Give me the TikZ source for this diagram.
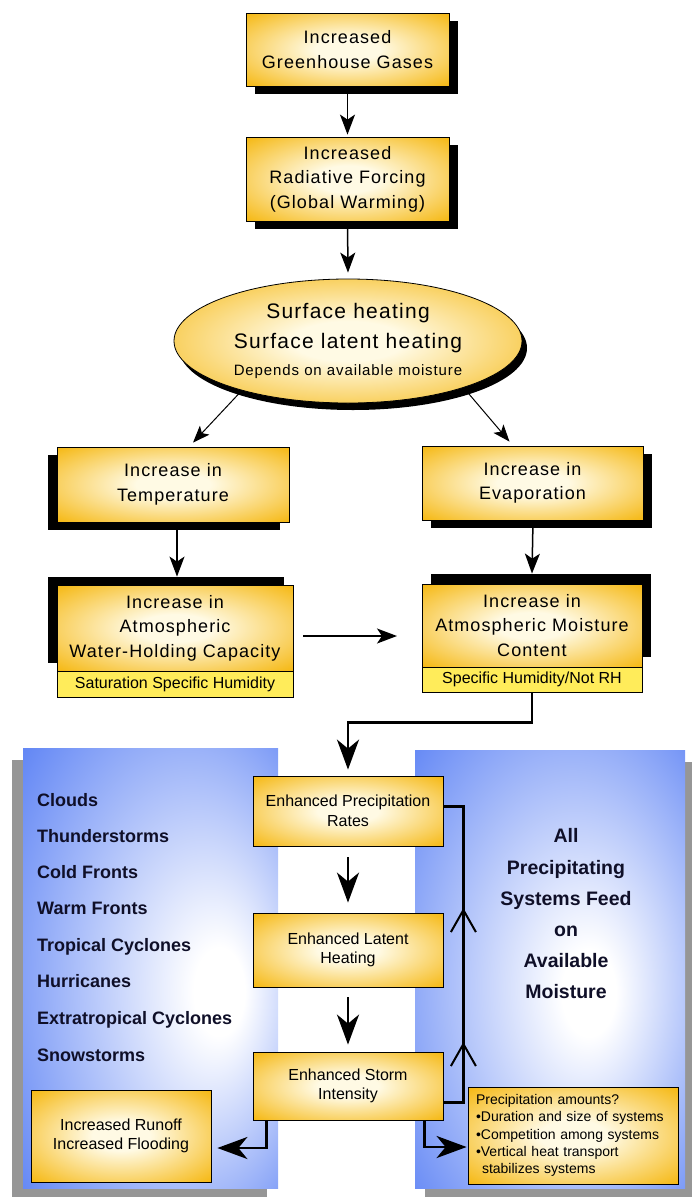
\documentclass[tikz,border=0pt]{standalone}
\usepackage{fontspec}
\setmainfont{Liberation Sans}
\newfontfamily\spaced[LetterSpace=6]{Liberation Sans}
\usetikzlibrary{shapes.geometric,arrows.meta,shadows,decorations.markings}

\definecolor{yin}{RGB}{255,250,228}
\definecolor{yout}{RGB}{245,182,12}
\definecolor{stripc}{RGB}{255,236,90}
\definecolor{bout}{RGB}{100,136,245}
\definecolor{shgray}{RGB}{150,150,150}
\definecolor{navy}{RGB}{15,15,40}

\pgfdeclareradialshading{yshade}{\pgfpoint{0bp}{0bp}}{color(0bp)=(yin); color(8bp)=(yin); color(36bp)=(yout); color(50bp)=(yout)}
\pgfdeclareradialshading{lshade}{\pgfpoint{15bp}{-3bp}}{color(0bp)=(white); color(5bp)=(white); color(38bp)=(bout); color(50bp)=(bout)}
\pgfdeclareradialshading{rshade}{\pgfpoint{8bp}{-3bp}}{color(0bp)=(white); color(5bp)=(white); color(38bp)=(bout); color(50bp)=(bout)}

\begin{document}
\begin{tikzpicture}[x=1pt,y=-1pt,
  ybox/.style={draw=black, line width=0.8pt, shade, shading=yshade, align=center, inner sep=0pt,
    font=\spaced\fontsize{18}{24.5}\selectfont},
  cbox/.style={draw=black, line width=0.8pt, shade, shading=yshade, align=center, inner sep=0pt,
    font=\fontsize{16}{19.5}\selectfont},
  strip/.style={draw=black, line width=0.8pt, fill=stripc, inner sep=0pt,
    font=\fontsize{16}{18}\selectfont},
  shse/.style={general shadow={fill=black, shadow xshift=9pt, shadow yshift=-8pt}},
  shsw/.style={general shadow={fill=black, shadow xshift=-9pt, shadow yshift=-8pt}},
  shnw/.style={general shadow={fill=black, shadow xshift=-9pt, shadow yshift=8pt}},
  shne/.style={general shadow={fill=black, shadow xshift=9pt, shadow yshift=10pt}},
  panel/.style={shade, inner sep=0pt, draw=none},
  ltext/.style={anchor=base west, inner sep=0pt, text=navy, font=\bfseries\fontsize{18}{20}\selectfont},
  rtext/.style={anchor=base, inner sep=0pt, text=navy, font=\bfseries\fontsize{19.5}{22}\selectfont},
  thinarr/.style={line width=1.5pt, -{Stealth[length=20pt,width=15pt,inset=5pt]}},
  slimarr/.style={line width=1pt, -{Stealth[length=17pt,width=13pt,inset=4pt]}},
  fatarr/.style={line width=2.8pt, -{Stealth[length=30pt,width=22pt,inset=9pt]}}
]
\useasboundingbox (0,0) rectangle (692,1197);

% ---------- top part ----------
\node[ybox, shse, minimum width=203pt, minimum height=73pt] (g1) at (347.5,49.5) {Increased\\Greenhouse Gases};
\node[ybox, shse, minimum width=203pt, minimum height=84pt] (g2) at (347.5,179) {Increased\\Radiative Forcing\\(Global Warming)};
\node[ellipse, draw=black, line width=0.8pt, shade, shading=yshade, inner sep=0pt,
      general shadow={fill=black, shadow xshift=5pt, shadow yshift=-7pt},
      minimum width=348pt, minimum height=124pt, align=center,
      font=\spaced\fontsize{21}{30}\selectfont] (el) at (348,341)
  {Surface heating\\Surface latent heating\\[-3pt]{\fontsize{15}{18}\selectfont Depends on available moisture}};

\node[ybox, shsw, minimum width=232pt, minimum height=75pt] (t3) at (173,484.5) {Increase in\\Temperature};
\node[ybox, shse, minimum width=221pt, minimum height=74pt] (t4) at (532.5,483) {Increase in\\Evaporation};
\node[ybox, shnw, minimum width=236pt, minimum height=86pt] (t5) at (175,628) {Increase in\\Atmospheric\\Water-Holding Capacity};
\node[strip, minimum width=236pt, minimum height=26pt] (s5) at (175,684) {Saturation Specific Humidity};
\node[ybox, shne, minimum width=220pt, minimum height=83pt] (t6) at (532,625.5) {Increase in\\Atmospheric Moisture\\Content};
\node[strip, minimum width=220pt, minimum height=25pt] (s6) at (532,679.5) {Specific Humidity/Not RH};

\draw[thinarr] (g1.south) -- ([yshift=2pt]g2.north);
\draw[thinarr] (g2.south) -- ([yshift=6pt]el.north);
\draw[slimarr] (el.205) -- ([xshift=20pt,yshift=4pt]t3.north);
\draw[slimarr] (el.338) -- ([xshift=-23pt,yshift=4pt]t4.north);
\draw[thinarr] ([xshift=4pt]t3.south) -- ([xshift=2pt,yshift=8pt]t5.north);
\draw[thinarr] ([xshift=0.5pt]t4.south) -- ([yshift=10pt]t6.north);
\coordinate (h1) at (303,636);
\coordinate (h2) at (397,636);
\draw[thinarr] (h1) -- (h2);

% ---------- bottom panels ----------
\node[panel, shading=lshade, minimum width=255pt, minimum height=440pt,
      general shadow={fill=shgray, shadow xshift=-11pt, shadow yshift=-12pt}] (lp) at (150.5,968) {};
\node[panel, shading=rshade, minimum width=270pt, minimum height=438pt,
      general shadow={fill=shgray, shadow xshift=10pt, shadow yshift=-12pt}] (rp) at (550,969) {};

\node[ltext] (l1) at (37,806) {Clouds};
\node[ltext] (l2) at (37,842) {Thunderstorms};
\node[ltext] (l3) at (37,878) {Cold Fronts};
\node[ltext] (l4) at (37,914) {Warm Fronts};
\node[ltext] (l5) at (37,951) {Tropical Cyclones};
\node[ltext] (l6) at (37,987) {Hurricanes};
\node[ltext] (l7) at (37,1024) {Extratropical Cyclones};
\node[ltext] (l8) at (37,1061) {Snowstorms};

\node[rtext] (r1) at (566,842) {All};
\node[rtext] (r2) at (566,874) {Precipitating};
\node[rtext] (r3) at (566,905) {Systems Feed};
\node[rtext] (r4) at (566,936) {on};
\node[rtext] (r5) at (566,967) {Available};
\node[rtext] (r6) at (566,998) {Moisture};

\node[cbox, minimum width=190pt, minimum height=70pt] (ep) at (348,811) {Enhanced Precipitation\\Rates};
\node[cbox, minimum width=190pt, minimum height=74pt] (lh) at (348,950) {Enhanced Latent\\Heating};
\node[cbox, minimum width=190pt, minimum height=68pt] (es) at (348,1086) {Enhanced Storm\\Intensity};
\node[cbox, minimum width=180pt, minimum height=92pt] (ro) at (121,1136) {Increased Runoff\\Increased Flooding};
\node[draw=black, line width=0.8pt, shade, shading=yshade, inner xsep=8pt, inner ysep=0pt,
      text width=194pt, minimum height=97pt, align=left,
      font=\fontsize{14}{17.3}\selectfont] (pa) at (573,1135.5)
  {Precipitation amounts?\\\textbullet Duration and size of systems\\\textbullet Competition among systems\\\textbullet Vertical heat transport\\\hspace*{6pt}stabilizes systems};

\draw[fatarr] (s6.south) -- ++(0,30) -| ([yshift=6pt]ep.north);
\draw[fatarr] ([yshift=-11pt]ep.south) -- ([yshift=10pt]lh.north);
\draw[fatarr] ([yshift=-10pt]lh.south) -- ([yshift=7pt]es.north);
\draw[fatarr] ([xshift=14pt]es.south west) |- ([xshift=6pt,yshift=-12pt]ro.east);
\draw[fatarr] ([xshift=-19pt]es.south east) |- ([xshift=-1pt,yshift=-11.5pt]pa.west);
\draw[line width=3pt, postaction={decorate, decoration={markings,
        mark=at position 80pt with {\arrow{Straight Barb[length=22pt,width=25pt,line width=2pt]}},
        mark=at position 214pt with {\arrow{Straight Barb[length=22pt,width=25pt,line width=2pt]}}}}]
  ([yshift=-16pt]es.east) -- ++(20,0) |- ([yshift=5pt]ep.east);
\end{tikzpicture}
\end{document}
